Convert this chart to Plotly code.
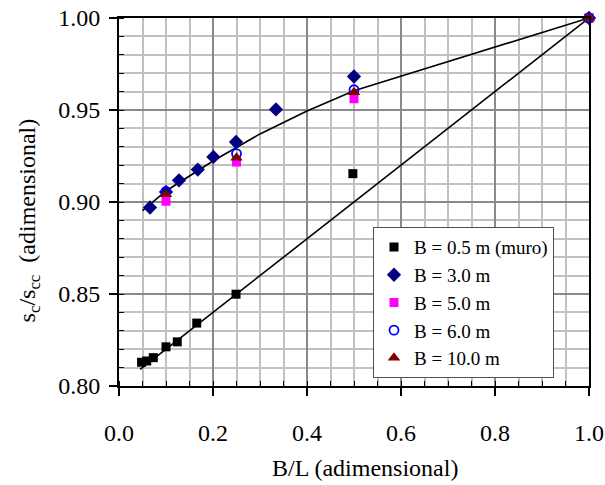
import plotly.graph_objects as go

# ---- data ----
x_muro = [0.048, 0.059, 0.073, 0.100, 0.124, 0.1654, 0.249, 0.4976, 1.0]
y_muro = [0.8129, 0.8136, 0.8154, 0.8213, 0.8240, 0.8342, 0.8499, 0.9154, 1.0]

x_b3 = [0.066, 0.100, 0.1277, 0.1676, 0.2008, 0.249, 0.334, 0.500, 1.0]
y_b3 = [0.8970, 0.9055, 0.9118, 0.9176, 0.9245, 0.9326, 0.9503, 0.9682, 1.0]

x_b5 = [0.100, 0.250, 0.500, 1.0]
y_b5 = [0.9004, 0.9217, 0.9561, 1.0]

x_b6 = [0.100, 0.250, 0.500, 1.0]
y_b6 = [0.9058, 0.9263, 0.9610, 1.0]

x_b10 = [0.100, 0.250, 0.500, 1.0]
y_b10 = [0.9042, 0.9241, 0.9597, 1.0]

# reference curves
x_line_muro = [0.045, 1.0]
y_line_muro = [0.809, 1.0]

x_line_up = [0.05, 0.10, 0.20, 0.30, 0.40, 0.50, 1.0]
y_line_up = [0.8953, 0.9060, 0.9223, 0.9370, 0.9494, 0.9605, 1.0]

names = ["B = 0.5 m (muro)", "B = 3.0 m", "B = 5.0 m", "B = 6.0 m", "B = 10.0 m"]

FONT = "Liberation Serif, Times New Roman, serif"

fig = go.Figure()

fig.add_trace(go.Scatter(x=x_line_muro, y=y_line_muro, mode="lines",
                         line=dict(color="black", width=1.6), showlegend=False,
                         hoverinfo="skip", cliponaxis=False))
fig.add_trace(go.Scatter(x=x_line_up, y=y_line_up, mode="lines",
                         line=dict(color="black", width=1.6), showlegend=False,
                         hoverinfo="skip", cliponaxis=False))

fig.add_trace(go.Scatter(x=x_muro, y=y_muro, mode="markers", name=names[0],
                         marker=dict(symbol="square", size=9, color="black"),
                         cliponaxis=False))
fig.add_trace(go.Scatter(x=x_b3, y=y_b3, mode="markers", name=names[1],
                         marker=dict(symbol="diamond", size=11, color="#000080"),
                         cliponaxis=False))
fig.add_trace(go.Scatter(x=x_b5, y=y_b5, mode="markers", name=names[2],
                         marker=dict(symbol="square", size=9, color="#FF00FF"),
                         cliponaxis=False))
fig.add_trace(go.Scatter(x=x_b6, y=y_b6, mode="markers", name=names[3],
                         marker=dict(symbol="circle-open", size=9, color="#0000FF",
                                     line=dict(width=1.8, color="#0000FF")),
                         cliponaxis=False))
fig.add_trace(go.Scatter(x=x_b10, y=y_b10, mode="markers", name=names[4],
                         marker=dict(symbol="triangle-up", size=11, color="#800000"),
                         cliponaxis=False))

axis_common = dict(
    showline=True, linecolor="black", linewidth=2, mirror=True,
    ticks="outside", ticklen=8, tickwidth=1.5, tickcolor="black",
    showgrid=True, gridcolor="#8a8a8a", gridwidth=1.5,
    zeroline=False, automargin=False,
    tickfont=dict(family=FONT, size=24, color="black"),
)

fig.update_xaxes(range=[0, 1.0], dtick=0.2, tick0=0, tickformat=".1f",
                 ticklabelstandoff=16,
                 minor=dict(dtick=0.05, showgrid=True, gridcolor="#c0c0c0",
                            gridwidth=2, ticks="inside", ticklen=5,
                            tickcolor="black", tickwidth=1.2),
                 **axis_common)
fig.update_yaxes(range=[0.8, 1.0], dtick=0.05, tick0=0.8, tickformat=".2f",
                 ticklabelstandoff=4,
                 minor=dict(dtick=0.01, showgrid=True, gridcolor="#c0c0c0",
                            gridwidth=2, ticks="inside", ticklen=5,
                            tickcolor="black", tickwidth=1.2),
                 **axis_common)

fig.update_layout(
    width=605, height=485,
    margin=dict(l=119, r=16, t=18, b=99, pad=0, autoexpand=False),
    paper_bgcolor="white", plot_bgcolor="white",
    font=dict(family=FONT, size=20, color="black"),
    showlegend=True,
    legend=dict(x=(373 - 119) / 470, y=(386 - 227) / 368.5, xanchor="left", yanchor="top",
                bgcolor="white", bordercolor="#505050", borderwidth=1,
                font=dict(family=FONT, size=19, color="black"),
                itemwidth=30, tracegroupgap=0),
    annotations=[
        dict(text="B/L (adimensional)", xref="paper", yref="paper",
             x=0.5 + 11/470, y=-0.222, xanchor="center", yanchor="middle",
             showarrow=False, font=dict(family=FONT, size=24, color="black")),
        dict(text="s<sub>c</sub>/s<sub>cc</sub>  (adimensional)", xref="paper", yref="paper",
             x=-(119-29)/470, y=0.45, xanchor="center", yanchor="middle",
             textangle=-90, showarrow=False,
             font=dict(family=FONT, size=24, color="black")),
    ],
)

fig.write_html(
    "out.html",
    config={"displayModeBar": False},
    post_script="document.body.style.margin='0';document.body.style.padding='0';"
                "document.documentElement.style.overflow='hidden';",
)
